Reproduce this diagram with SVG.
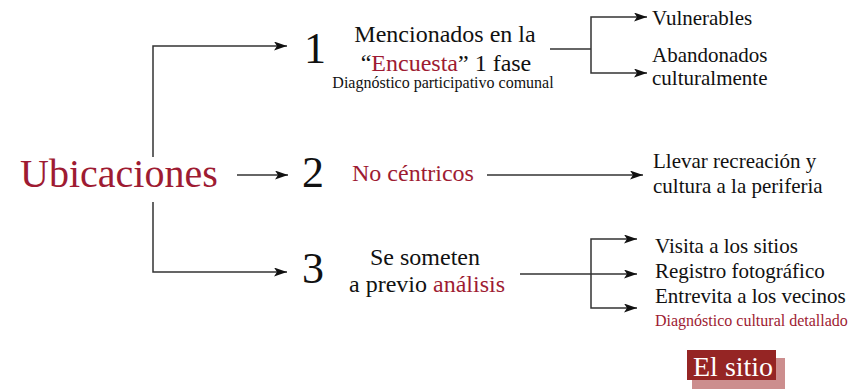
<svg xmlns="http://www.w3.org/2000/svg" width="865" height="390" viewBox="0 0 865 390">
<style>
text{font-family:"Liberation Serif","Times New Roman",serif;fill:#111}
.red{fill:#9e1b32}
.num{font-size:44px}
.main{font-size:24px}
.side{font-size:21px}
.small{font-size:16px}
.conn path{fill:none;stroke:#333;stroke-width:1.5}
</style>
<defs>
<marker id="ah" markerUnits="userSpaceOnUse" markerWidth="14" markerHeight="10" refX="13" refY="4.5" orient="auto">
<path d="M0,0 L13,4.5 L0,9 L3,4.5 z" fill="#111"/>
</marker>
</defs>
<rect width="865" height="390" fill="#fff"/>

<g id="ubicaciones">
<text x="20" y="187" font-size="40" class="red">Ubicaciones</text>
</g>

<g id="n1">
<text x="304" y="63" class="num">1</text>
<text x="445" y="42" class="main" text-anchor="middle">Mencionados en la</text>
<text x="446" y="71" class="main" text-anchor="middle">“<tspan class="red">Encuesta</tspan>” 1 fase</text>
<text x="443" y="88" class="small" text-anchor="middle">Diagnóstico participativo comunal</text>
</g>

<g id="n1a"><text x="652" y="25" class="side">Vulnerables</text></g>
<g id="n1b">
<text x="652" y="62" class="side">Abandonados</text>
<text x="652" y="85" class="side">culturalmente</text>
</g>

<g id="n2">
<text x="302" y="187" class="num">2</text>
<text x="352" y="181" class="main red">No céntricos</text>
</g>

<g id="n2a">
<text x="653" y="168" class="side">Llevar recreación y</text>
<text x="653" y="193" class="side">cultura a la periferia</text>
</g>

<g id="n3">
<text x="302" y="283" class="num">3</text>
<text x="425" y="265" class="main" text-anchor="middle">Se someten</text>
<text x="427" y="292" class="main" text-anchor="middle">a previo <tspan class="red">análisis</tspan></text>
</g>

<g id="n3a">
<text x="655" y="253" class="side">Visita a los sitios</text>
<text x="655" y="278" class="side">Registro fotográfico</text>
<text x="655" y="303" class="side">Entrevita a los vecinos</text>
<text x="655" y="326" class="small red">Diagnóstico cultural detallado</text>
</g>

<g id="elsitio">
<rect x="692" y="358" width="93" height="31" fill="#cc8e8e"/>
<rect x="687" y="350" width="89" height="30" fill="#952524"/>
<text x="693" y="376" font-size="28" style="fill:#fff">El sitio</text>
</g>

<g id="connectors" class="conn">
<path d="M153,157 V46 H287" marker-end="url(#ah)"/>
<path d="M153,202 V272 H287" marker-end="url(#ah)"/>
<path d="M237,175 H288" marker-end="url(#ah)"/>
<path d="M550,49 H591"/>
<path d="M591,49 V17 H647" marker-end="url(#ah)"/>
<path d="M591,49 V73 H647" marker-end="url(#ah)"/>
<path d="M487,175 H643" marker-end="url(#ah)"/>
<path d="M520,274 H637" marker-end="url(#ah)"/>
<path d="M591,274 V239 H637" marker-end="url(#ah)"/>
<path d="M591,274 V308 H637" marker-end="url(#ah)"/>
</g>
</svg>
